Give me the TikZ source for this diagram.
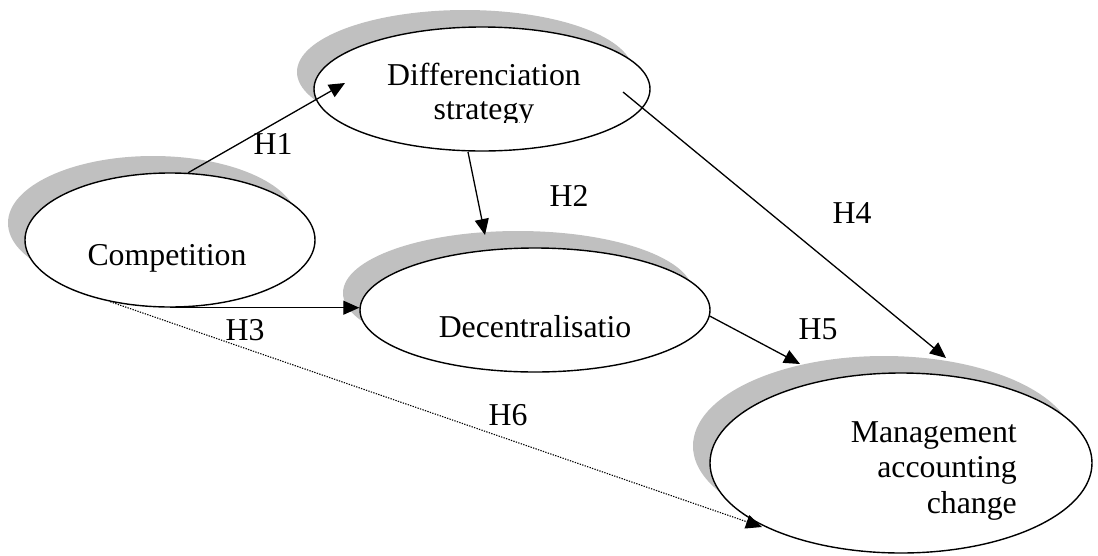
\documentclass[tikz,border=0pt]{standalone}
\usepackage{fontspec}
\setmainfont{Liberation Serif}
\usetikzlibrary{shapes.geometric,arrows.meta,shadows}
\definecolor{shade}{HTML}{C0C0C0}
\begin{document}
\begin{tikzpicture}[x=1pt,y=-1pt,
  oval/.style={ellipse, draw, line width=1.4pt, fill=white, inner sep=0pt,
    general shadow={fill=shade, shadow xshift=-17pt, shadow yshift=17pt}},
  lbl/.style={font=\fontsize{31.8}{36}\selectfont, inner sep=0pt, anchor=base},
  link/.style={line width=1.3pt, -{Triangle[length=16pt,width=14pt]}},
  dotlink/.style={line width=1.1pt, dash pattern=on 1.3pt off 1.3pt, -{Triangle[length=16pt,width=14pt]}},
]
\useasboundingbox (0,0) rectangle (1098,555);

% ellipses
\node[oval, minimum width=290pt, minimum height=134pt] (comp) at (170,240) {};
\node[oval, minimum width=336pt, minimum height=124pt] (diff) at (482,89) {};
\node[oval, minimum width=350pt, minimum height=124pt] (dec) at (535,310) {};
\node[oval, minimum width=382pt, minimum height=180pt] (mac) at (901,463) {};

% texts
\node[lbl] (tcomp) at (167,265) {Competition};
\node[lbl] (tdiff1) at (484,85) {Differenciation};
\begin{scope}
  \clip (380,0) rectangle (600,122);
  \node[lbl] (tdiff2) at (484,119) {strategy};
\end{scope}
\node[lbl] (tdec) at (535,337) {Decentralisatio};
\node[lbl, anchor=base east] (tm1) at (1017,442) {Management};
\node[lbl, anchor=base east] (tm2) at (1017,477) {accounting};
\node[lbl, anchor=base east] (tm3) at (1017,513) {change};

% connector end points
\coordinate (h1e) at (345,83);
\coordinate (h2s) at (468,152);
\coordinate (h2e) at (485,235);
\coordinate (h4s) at (623,92);
\coordinate (h4e) at (946,358);
\coordinate (h5e) at (800,364);
\coordinate (h6e) at (762,527);

% connectors
\draw[link] (comp.75) -- (h1e);
\draw[link] (h2s) -- (h2e);
\draw[link] (comp.south) -- (comp.south -| dec.west);
\draw[link] (h4s) -- (h4e);
\draw[link] (dec.-2) -- (h5e);
\draw[dotlink] (comp.226) -- (h6e);

% labels
\node[lbl] (H1) at (273,154) {H1};
\node[lbl] (H2) at (569,206) {H2};
\node[lbl] (H3) at (245,340) {H3};
\node[lbl] (H4) at (852,223) {H4};
\node[lbl] (H5) at (818,339) {H5};
\node[lbl] (H6) at (508,425) {H6};
\end{tikzpicture}
\end{document}
